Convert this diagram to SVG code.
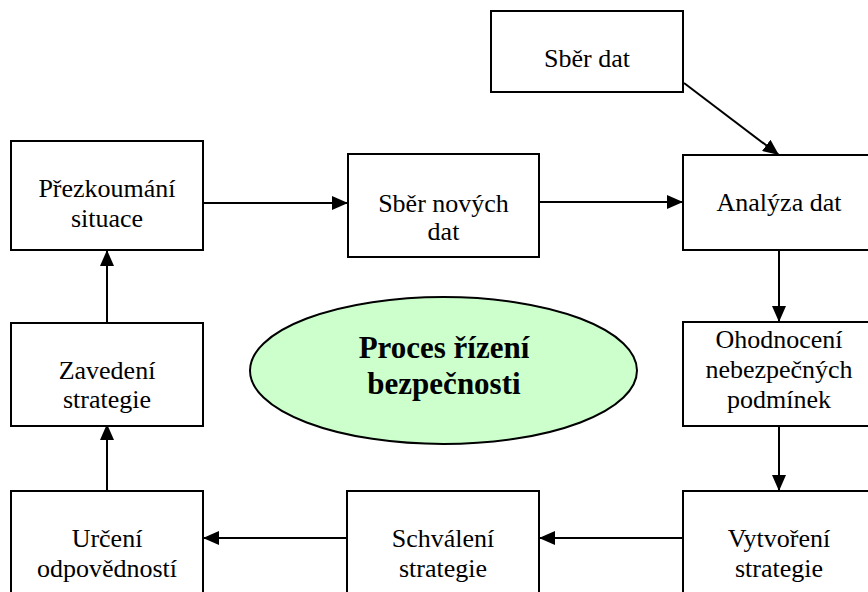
<svg xmlns="http://www.w3.org/2000/svg" width="868" height="592" viewBox="0 0 868 592">
  <style>
    .box { fill: #ffffff; stroke: #000000; stroke-width: 2; }
    .lbl { font-family: "Times New Roman", "Liberation Serif", Tinos, serif; font-size: 26px; font-weight: normal; fill: #000000; text-anchor: middle; }
    .title { font-family: "Times New Roman", "Liberation Serif", Tinos, serif; font-size: 31px; font-weight: bold; fill: #000000; text-anchor: middle; }
    .conn { stroke: #000000; stroke-width: 2; fill: none; marker-end: url(#arrow); }
  </style>
  <defs>
    <marker id="arrow" markerUnits="userSpaceOnUse" markerWidth="16" markerHeight="14" refX="16" refY="7" orient="auto">
      <path d="M0,0 L16,7 L0,14 Z" fill="#000000"/>
    </marker>
  </defs>

  <rect width="868" height="592" fill="#ffffff"/>

  <!-- connectors -->
  <g id="connectors">
    <line class="conn" x1="684" y1="83" x2="779" y2="155"/>
    <line class="conn" x1="203" y1="203" x2="348" y2="203"/>
    <line class="conn" x1="539" y1="202" x2="683" y2="202"/>
    <line class="conn" x1="779" y1="250" x2="779" y2="322"/>
    <line class="conn" x1="779" y1="426" x2="779" y2="491"/>
    <line class="conn" x1="683" y1="538" x2="539" y2="538"/>
    <line class="conn" x1="347" y1="538" x2="203" y2="538"/>
    <line class="conn" x1="107" y1="491" x2="107" y2="424"/>
    <line class="conn" x1="107" y1="323" x2="107" y2="250"/>
  </g>

  <g id="sber-dat">
    <rect class="box" x="491" y="11" width="192" height="81"/>
    <text class="lbl" x="587" y="67">Sběr dat</text>
  </g>

  <g id="prezkoumani-situace">
    <rect class="box" x="11" y="141" width="192" height="109"/>
    <text class="lbl" x="107" y="197">Přezkoumání</text>
    <text class="lbl" x="107" y="227">situace</text>
  </g>

  <g id="sber-novych-dat">
    <rect class="box" x="348" y="154" width="191" height="103"/>
    <text class="lbl" x="443.5" y="212">Sběr nových</text>
    <text class="lbl" x="443.5" y="240">dat</text>
  </g>

  <g id="analyza-dat">
    <rect class="box" x="683" y="155" width="192" height="95"/>
    <text class="lbl" x="779" y="211">Analýza dat</text>
  </g>

  <g id="zavedeni-strategie">
    <rect class="box" x="11" y="323" width="192" height="103"/>
    <text class="lbl" x="107" y="379">Zavedení</text>
    <text class="lbl" x="107" y="408">strategie</text>
  </g>

  <g id="proces-rizeni">
    <ellipse cx="443.5" cy="370.5" rx="193.5" ry="73.5" fill="#ccffcc" stroke="#000000" stroke-width="2"/>
    <text class="title" x="444" y="358">Proces řízení</text>
    <text class="title" x="444" y="394">bezpečnosti</text>
  </g>

  <g id="ohodnoceni">
    <rect class="box" x="683" y="322" width="192" height="104"/>
    <text class="lbl" x="779" y="348">Ohodnocení</text>
    <text class="lbl" x="779" y="378">nebezpečných</text>
    <text class="lbl" x="779" y="408">podmínek</text>
  </g>

  <g id="urceni-odpovednosti">
    <rect class="box" x="11" y="491" width="192" height="110"/>
    <text class="lbl" x="107" y="547">Určení</text>
    <text class="lbl" x="107" y="577">odpovědností</text>
  </g>

  <g id="schvaleni-strategie">
    <rect class="box" x="347" y="491" width="192" height="110"/>
    <text class="lbl" x="443" y="547">Schválení</text>
    <text class="lbl" x="443" y="577">strategie</text>
  </g>

  <g id="vytvoreni-strategie">
    <rect class="box" x="683" y="491" width="192" height="110"/>
    <text class="lbl" x="779" y="547">Vytvoření</text>
    <text class="lbl" x="779" y="577">strategie</text>
  </g>
</svg>
